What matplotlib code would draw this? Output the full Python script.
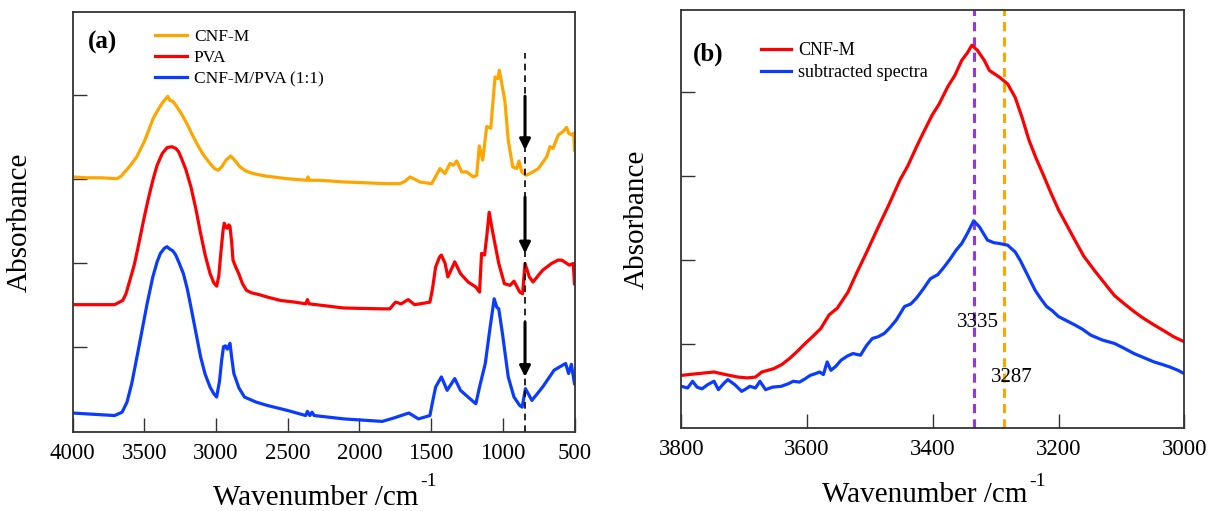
import matplotlib
matplotlib.use("Agg")
import matplotlib.pyplot as plt

plt.rcParams['font.family'] = ['Liberation Serif', 'DejaVu Serif']

# ---------------- data: panel (a) ----------------
cnf_wn = [4000, 3900, 3800, 3690, 3660, 3646, 3600, 3552, 3500, 3470, 3437, 3400, 3370, 3350, 3336,
          3320, 3300, 3274, 3240, 3204, 3170, 3134, 3090, 3041, 3010, 2983, 2960, 2930, 2897, 2870,
          2832, 2790, 2739, 2650, 2507, 2365, 2358, 2350, 2274, 2100, 1950, 1809, 1717, 1680, 1647,
          1610, 1577, 1496, 1470, 1438, 1403, 1368, 1345, 1321, 1287, 1252, 1206, 1182, 1164, 1140,
          1112, 1084, 1054, 1035, 1024, 1008, 985, 962, 931, 903, 887, 868, 838, 800, 752, 694, 671,
          650, 613, 580, 555, 540, 520, 505, 500]
cnf_abs = [3.03, 3.02, 3.02, 3.01, 3.04, 3.07, 3.16, 3.27, 3.45, 3.58, 3.73, 3.84, 3.92, 3.96, 3.99,
           3.94, 3.93, 3.87, 3.78, 3.67, 3.55, 3.43, 3.30, 3.19, 3.13, 3.11, 3.15, 3.23, 3.28, 3.23,
           3.15, 3.10, 3.07, 3.04, 3.01, 2.99, 3.03, 2.99, 2.99, 2.97, 2.96, 2.95, 2.95, 2.98, 3.03,
           3.00, 2.97, 2.95, 3.03, 3.13, 3.07, 3.19, 3.17, 3.22, 3.09, 3.09, 3.03, 3.05, 3.40, 3.23,
           3.63, 3.61, 4.22, 4.20, 4.30, 4.15, 3.93, 3.47, 3.15, 3.13, 3.22, 3.09, 3.05, 3.08, 3.13,
           3.27, 3.39, 3.37, 3.53, 3.57, 3.62, 3.55, 3.53, 3.55, 3.35]

pva_wn = [4000, 3707, 3650, 3627, 3600, 3570, 3547, 3500, 3470, 3440, 3410, 3374, 3340, 3307, 3280,
          3260, 3240, 3210, 3174, 3140, 3107, 3075, 3041, 3015, 2995, 2980, 2966, 2950, 2942, 2930,
          2921, 2910, 2902, 2890, 2881, 2860, 2841, 2815, 2787, 2750, 2700, 2641, 2550, 2450, 2374,
          2362, 2352, 2108, 1841, 1788, 1748, 1708, 1660, 1615, 1575, 1508, 1490, 1468, 1440, 1428,
          1402, 1383, 1335, 1295, 1242, 1188, 1162, 1148, 1127, 1110, 1095, 1069, 1028, 989, 949, 922,
          882, 862, 845, 815, 789, 722, 660, 615, 589, 535, 509, 500]
pva_abs = [1.51, 1.51, 1.56, 1.64, 1.80, 1.98, 2.16, 2.55, 2.78, 2.99, 3.17, 3.31, 3.38, 3.39, 3.37,
           3.33, 3.25, 3.12, 2.91, 2.65, 2.36, 2.10, 1.88, 1.77, 1.73, 1.85, 2.12, 2.40, 2.48, 2.43,
           2.42, 2.46, 2.44, 2.25, 2.04, 1.95, 1.88, 1.76, 1.68, 1.65, 1.63, 1.60, 1.56, 1.54, 1.52,
           1.57, 1.52, 1.47, 1.46, 1.46, 1.54, 1.52, 1.57, 1.51, 1.52, 1.54, 1.70, 1.96, 2.08, 2.10,
           2.00, 1.84, 2.02, 1.88, 1.78, 1.72, 1.66, 2.12, 2.10, 2.35, 2.61, 2.36, 2.00, 1.76, 1.74,
           1.79, 1.66, 1.64, 2.00, 1.84, 1.78, 1.92, 2.00, 2.04, 2.04, 1.98, 2.00, 1.76]

blend_wn = [4000, 3707, 3654, 3620, 3587, 3555, 3520, 3480, 3440, 3410, 3387, 3360, 3342, 3320, 3300,
            3280, 3255, 3227, 3200, 3174, 3140, 3107, 3075, 3041, 3015, 2995, 2975, 2960, 2947, 2934,
            2921, 2902, 2890, 2875, 2840, 2801, 2720, 2641, 2500, 2374, 2362, 2345, 2330, 2315, 2108,
            1841, 1761, 1655, 1588, 1508, 1490, 1468, 1428, 1388, 1335, 1295, 1242, 1188, 1162, 1122,
            1090, 1060, 1042, 1028, 1002, 962, 922, 882, 865, 842, 797, 722, 642, 562, 541, 522, 500]
blend_abs = [0.22, 0.19, 0.23, 0.35, 0.57, 0.85, 1.16, 1.52, 1.84, 2.02, 2.12, 2.18, 2.20, 2.17, 2.15,
             2.10, 2.00, 1.88, 1.70, 1.48, 1.18, 0.89, 0.68, 0.53, 0.45, 0.41, 0.60, 0.85, 1.01, 1.02,
             0.98, 1.05, 0.88, 0.69, 0.52, 0.41, 0.35, 0.31, 0.25, 0.19, 0.24, 0.19, 0.23, 0.19, 0.15,
             0.12, 0.16, 0.22, 0.15, 0.19, 0.35, 0.53, 0.65, 0.49, 0.63, 0.49, 0.41, 0.33, 0.53, 0.81,
             1.22, 1.58, 1.48, 1.46, 1.16, 0.65, 0.41, 0.31, 0.29, 0.51, 0.37, 0.53, 0.73, 0.81, 0.69,
             0.80, 0.57]

marker_wn = 845
marker_top = 4.50
arrow_tails = [3.99, 2.79, 1.30]
arrow_tips = [3.35, 2.12, 0.65]

# ---------------- data: panel (b) ----------------
cnfb_wn = [3800, 3775, 3748, 3730, 3710, 3695, 3682, 3672, 3653, 3640, 3628, 3615, 3603, 3590, 3578,
           3565, 3552, 3535, 3521, 3505, 3489, 3470, 3452, 3440, 3426, 3415, 3401, 3390, 3376, 3365,
           3354, 3345, 3338, 3329, 3318, 3310, 3294, 3281, 3269, 3258, 3247, 3236, 3225, 3212, 3200,
           3187, 3174, 3160, 3143, 3125, 3111, 3095, 3080, 3065, 3048, 3030, 3017, 3000]
cnfb_abs = [0.63, 0.65, 0.67, 0.64, 0.61, 0.60, 0.61, 0.67, 0.71, 0.76, 0.83, 0.92, 1.01, 1.10, 1.19,
            1.35, 1.43, 1.62, 1.85, 2.10, 2.36, 2.66, 2.96, 3.12, 3.35, 3.52, 3.73, 3.86, 4.07, 4.20,
            4.38, 4.47, 4.56, 4.50, 4.38, 4.26, 4.18, 4.10, 3.94, 3.70, 3.43, 3.22, 3.03, 2.80, 2.60,
            2.42, 2.24, 2.05, 1.88, 1.71, 1.58, 1.48, 1.39, 1.31, 1.23, 1.15, 1.09, 1.03]

sub_wn = [3800, 3790, 3782, 3775, 3767, 3758, 3748, 3741, 3733, 3726, 3715, 3704, 3697, 3691, 3682,
          3675, 3666, 3655, 3641, 3630, 3622, 3612, 3603, 3595, 3587, 3580, 3574, 3568, 3562, 3554,
          3546, 3536, 3527, 3515, 3505, 3496, 3487, 3477, 3468, 3458, 3445, 3435, 3426, 3415, 3404,
          3392, 3382, 3372, 3363, 3354, 3345, 3335, 3326, 3313, 3303, 3294, 3281, 3269, 3261, 3253,
          3245, 3237, 3228, 3219, 3210, 3200, 3187, 3174, 3162, 3149, 3130, 3111, 3095, 3080, 3064,
          3048, 3035, 3023, 3010, 3000]
sub_abs = [0.50, 0.48, 0.56, 0.49, 0.47, 0.52, 0.56, 0.46, 0.53, 0.58, 0.52, 0.44, 0.47, 0.50, 0.48,
           0.56, 0.46, 0.49, 0.50, 0.53, 0.56, 0.55, 0.59, 0.63, 0.65, 0.67, 0.64, 0.79, 0.69, 0.74,
           0.81, 0.86, 0.89, 0.87, 0.99, 1.07, 1.09, 1.13, 1.20, 1.29, 1.45, 1.48, 1.55, 1.66, 1.78,
           1.83, 1.92, 2.02, 2.12, 2.20, 2.32, 2.47, 2.40, 2.24, 2.21, 2.20, 2.18, 2.10, 2.00, 1.88,
           1.76, 1.64, 1.54, 1.45, 1.40, 1.33, 1.28, 1.23, 1.18, 1.11, 1.05, 1.01, 0.95, 0.89, 0.84,
           0.79, 0.76, 0.73, 0.69, 0.65]

peak_positions = [3335, 3287]
peak_colors = ['#9b30ef', '#ffa500']
peak_label_pos = [(3328, 1.26), (3275, 0.61)]

C_ORANGE = '#ffa500'
C_RED = '#ff0000'
C_BLUE = '#0a3cff'

fig = plt.figure(figsize=(12.2, 5.11), dpi=100)
axa = fig.add_axes([72.5 / 1220, (511 - 431.5) / 511, 502 / 1220, 419.2 / 511])
axb = fig.add_axes([681.3 / 1220, (511 - 428.3) / 511, 503 / 1220, 418.3 / 511])

lw = 2.3
axa.plot(cnf_wn, cnf_abs, color=C_ORANGE, lw=lw, label='CNF-M')
axa.plot(pva_wn, pva_abs, color=C_RED, lw=lw, label='PVA')
axa.plot(blend_wn, blend_abs, color=C_BLUE, lw=lw, label='CNF-M/PVA (1:1)')
axa.plot([marker_wn, marker_wn], [0, marker_top], color='k', lw=1.2, ls=(0, (4, 3)))
for t0, t1 in zip(arrow_tails, arrow_tips):
    axa.annotate('', xy=(marker_wn, t1), xytext=(marker_wn, t0),
                 arrowprops=dict(arrowstyle='-|>', color='k', lw=2.2, mutation_scale=16,
                                 shrinkA=0, shrinkB=0))

axb.plot(cnfb_wn, cnfb_abs, color=C_RED, lw=lw, label='CNF-M')
axb.plot(sub_wn, sub_abs, color=C_BLUE, lw=lw, label='subtracted spectra')
for p, c in zip(peak_positions, peak_colors):
    axb.axvline(p, color=c, lw=2.2, ls=(0, (3, 2)), zorder=1)
for p, (x, y) in zip(peak_positions, peak_label_pos):
    axb.text(x, y, str(p), fontsize=15, ha='center', va='center')

axa.set_xlim(4000, 500)
axa.set_ylim(0, 4.99)
axa.set_xticks([4000, 3500, 3000, 2500, 2000, 1500, 1000, 500])
axb.set_xlim(3800, 3000)
axb.set_ylim(0, 4.98)
axb.set_xticks([3800, 3600, 3400, 3200, 3000])

for ax in (axa, axb):
    ax.set_yticks([1, 2, 3, 4])
    ax.set_yticklabels([])
    ax.tick_params(axis='both', direction='in', length=10, width=1.0, color='#333333',
                   labelsize=16.5, pad=8)
    for s in ax.spines.values():
        s.set_linewidth(1.3)
        s.set_color('#333333')

axa.text(-0.105, 0.5, 'Absorbance', rotation=90, fontsize=21, ha='center', va='center',
         transform=axa.transAxes)
axb.text(-0.088, 0.5, 'Absorbance', rotation=90, fontsize=21, ha='center', va='center',
         transform=axb.transAxes)

axa.text(0.688, -0.175, 'Wavenumber /cm', fontsize=21, ha='right', va='baseline',
         transform=axa.transAxes)
axa.text(0.692, -0.130, '-1', fontsize=14, ha='left', va='baseline', transform=axa.transAxes)
axb.text(0.689, -0.175, 'Wavenumber /cm', fontsize=21, ha='right', va='baseline',
         transform=axb.transAxes)
axb.text(0.691, -0.138, '-1', fontsize=14, ha='left', va='baseline', transform=axb.transAxes)

axa.text(0.059, 0.927, '(a)', fontsize=18, fontweight='bold', ha='center', va='center',
         transform=axa.transAxes)
axb.text(0.053, 0.895, '(b)', fontsize=18, fontweight='bold', ha='center', va='center',
         transform=axb.transAxes)

axa.legend(loc='upper left', bbox_to_anchor=(0.15, 0.978), frameon=False, fontsize=12.5,
           handlelength=1.85, handletextpad=0.4, labelspacing=0.3, borderaxespad=0)
axb.legend(loc='upper left', bbox_to_anchor=(0.145, 0.941), frameon=False, fontsize=13,
           handlelength=1.65, handletextpad=0.4, labelspacing=0.3, borderaxespad=0)

fig.savefig('out.png', dpi=100)
